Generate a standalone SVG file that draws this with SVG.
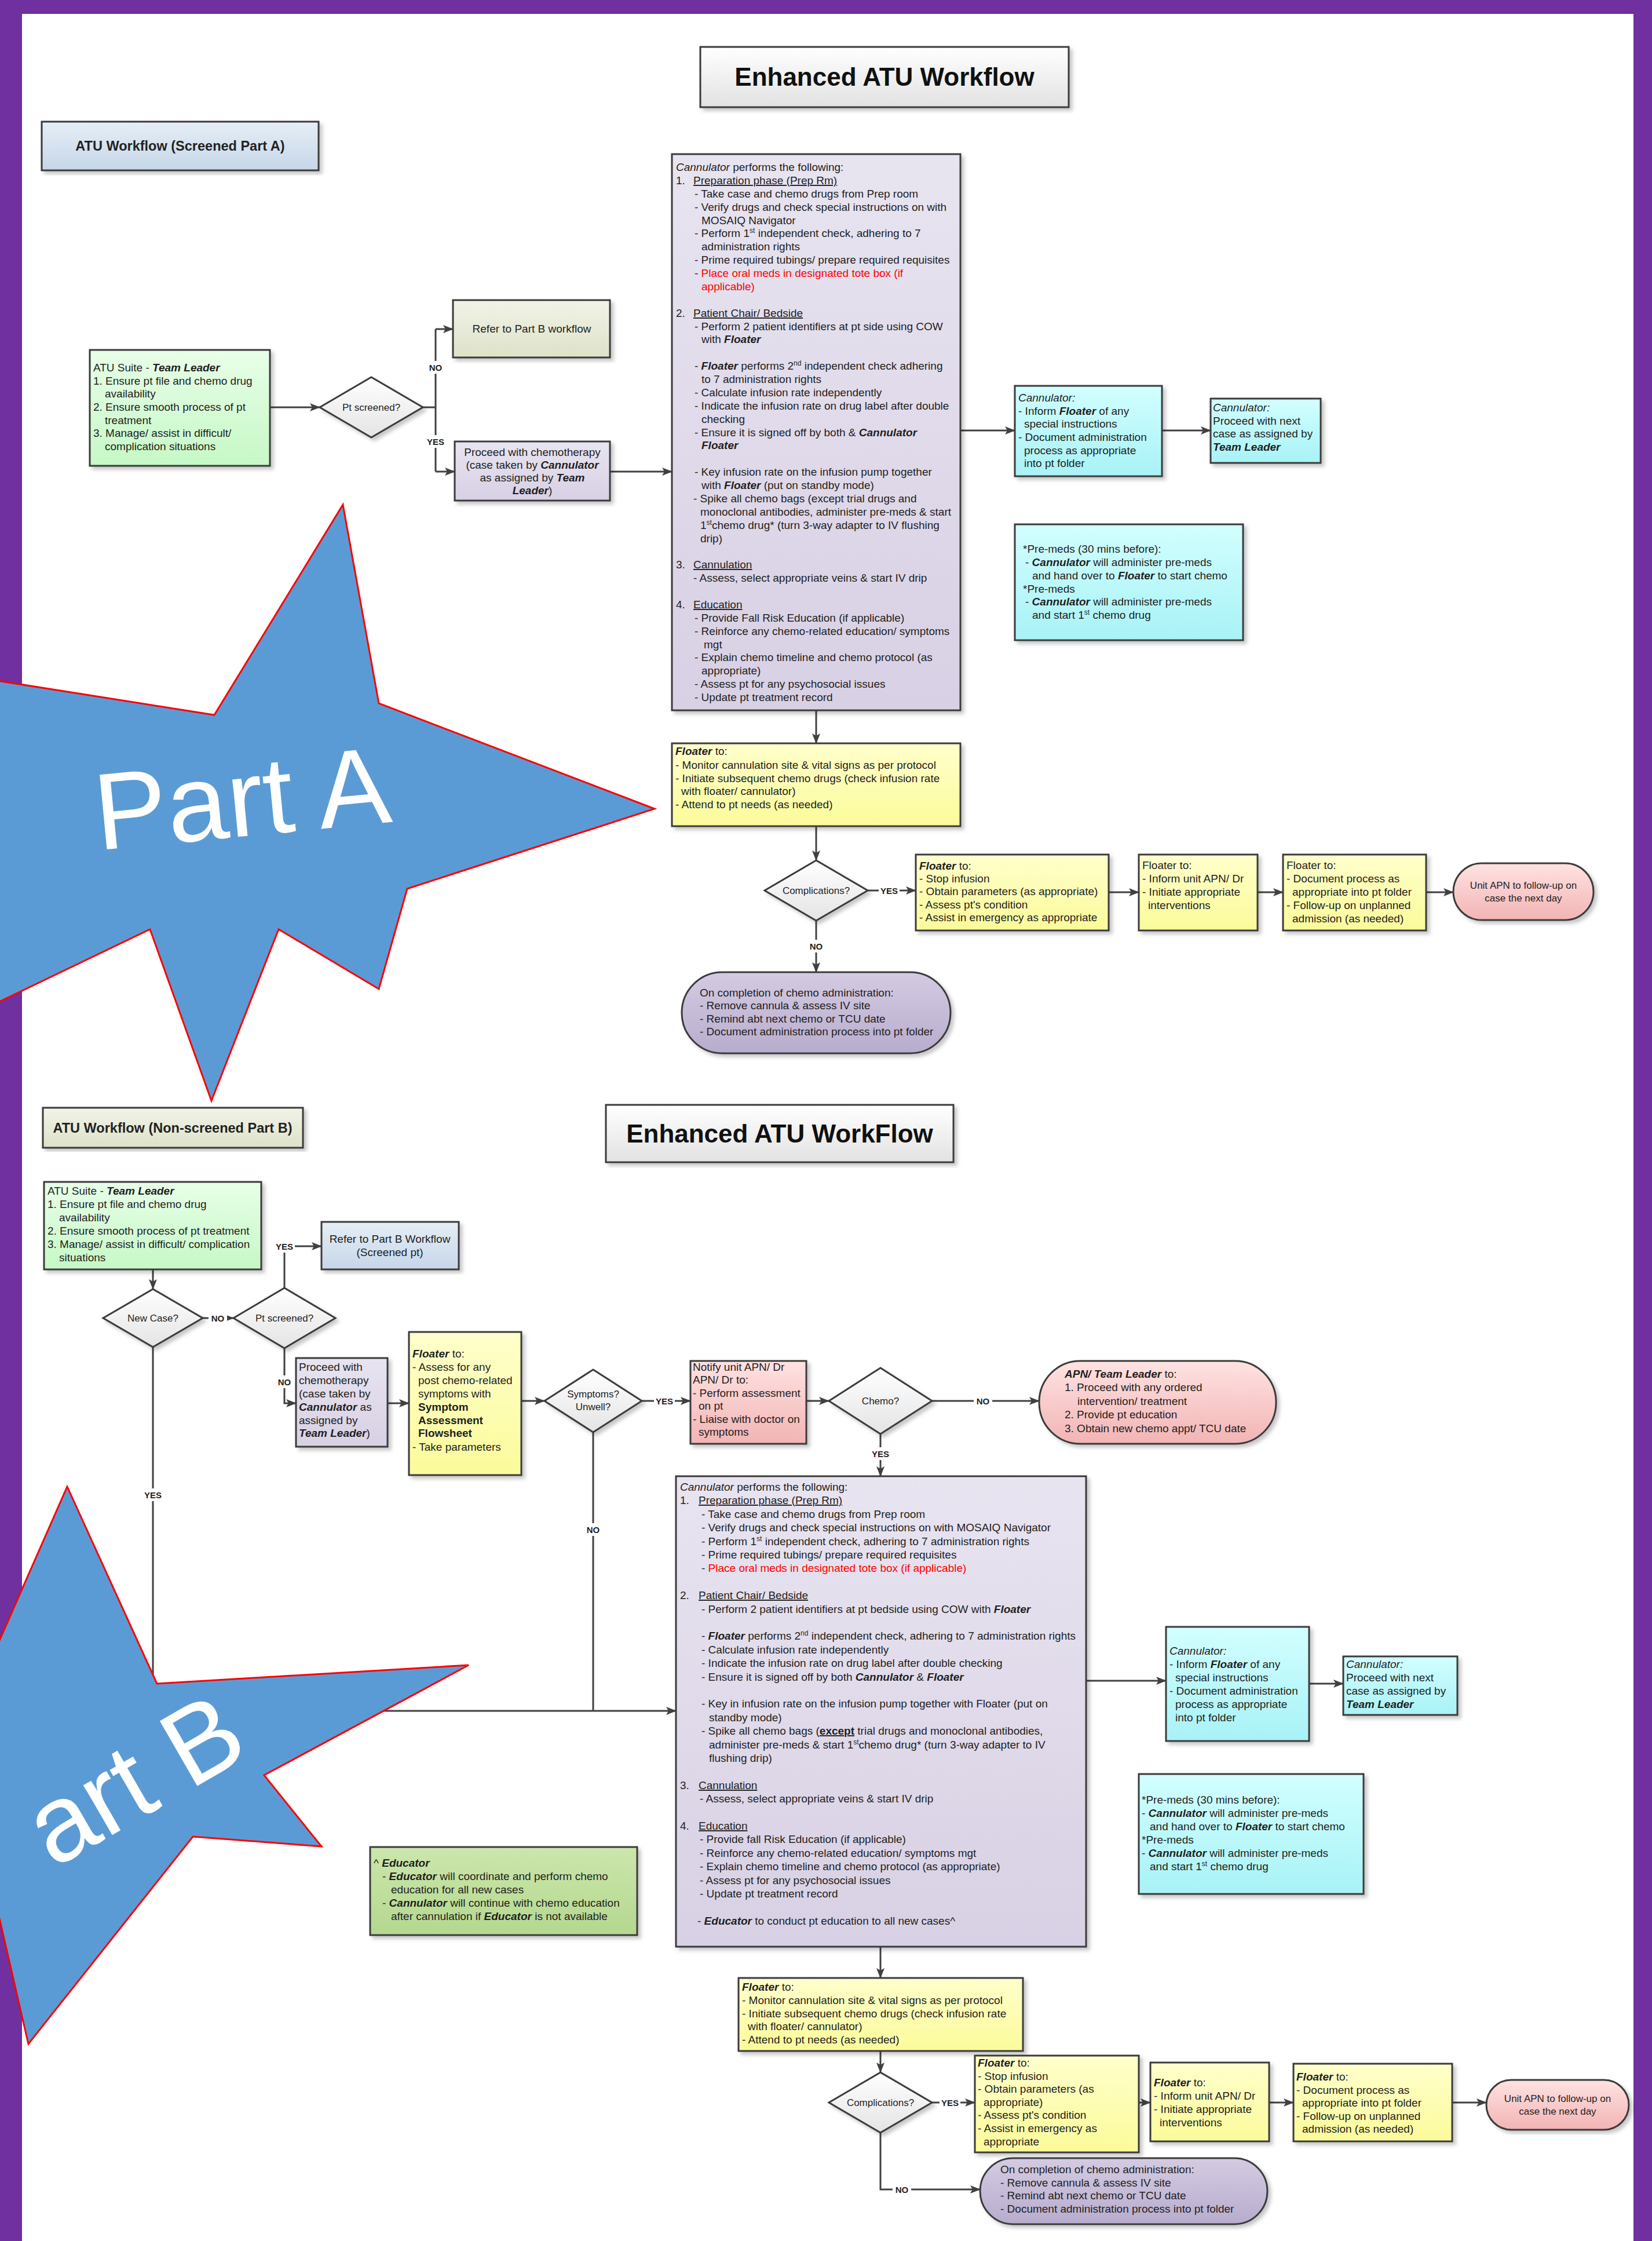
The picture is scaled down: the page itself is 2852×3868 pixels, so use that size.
<svg xmlns="http://www.w3.org/2000/svg" width="2852" height="3868" viewBox="0 0 2852 3868">
<defs>
<linearGradient id="gGreen" x1="0" y1="0" x2="0" y2="1"><stop offset="0" stop-color="#e8ffe8"/><stop offset="1" stop-color="#c6f8c6"/></linearGradient>
<linearGradient id="gLav" x1="0" y1="0" x2="0" y2="1"><stop offset="0" stop-color="#e8e4f0"/><stop offset="1" stop-color="#d8d0e4"/></linearGradient>
<linearGradient id="gCyan" x1="0" y1="0" x2="0" y2="1"><stop offset="0" stop-color="#d2ffff"/><stop offset="1" stop-color="#a8f2f6"/></linearGradient>
<linearGradient id="gYel" x1="0" y1="0" x2="0" y2="1"><stop offset="0" stop-color="#ffffcc"/><stop offset="1" stop-color="#fbfb9a"/></linearGradient>
<linearGradient id="gPink" x1="0" y1="0" x2="0" y2="1"><stop offset="0" stop-color="#ffe2e2"/><stop offset="1" stop-color="#f2b4b4"/></linearGradient>
<linearGradient id="gRnd" x1="0" y1="0" x2="0" y2="1"><stop offset="0" stop-color="#d4cbe2"/><stop offset="1" stop-color="#b8accd"/></linearGradient>
<linearGradient id="gBeige" x1="0" y1="0" x2="0" y2="1"><stop offset="0" stop-color="#f2f3e8"/><stop offset="1" stop-color="#dde2c8"/></linearGradient>
<linearGradient id="gBlue" x1="0" y1="0" x2="0" y2="1"><stop offset="0" stop-color="#e6eef6"/><stop offset="1" stop-color="#c6d6e9"/></linearGradient>
<linearGradient id="gDia" x1="0" y1="0" x2="0" y2="1"><stop offset="0" stop-color="#ffffff"/><stop offset="1" stop-color="#e4e4e4"/></linearGradient>
<linearGradient id="gEdu" x1="0" y1="0" x2="0" y2="1"><stop offset="0" stop-color="#cce6ac"/><stop offset="1" stop-color="#b4d88e"/></linearGradient>
<linearGradient id="gTitle" x1="0" y1="0" x2="0" y2="1"><stop offset="0" stop-color="#ffffff"/><stop offset="1" stop-color="#e2e2e2"/></linearGradient>
<marker id="ah" markerWidth="18" markerHeight="14" refX="17" refY="7" orient="auto" markerUnits="userSpaceOnUse"><path d="M0,0 L18,7 L0,14 L4,7 z" fill="#404040"/></marker>
<filter id="sh" x="-5%" y="-5%" width="115%" height="115%"><feDropShadow dx="5" dy="5" stdDeviation="3" flood-color="#000" flood-opacity="0.22"/></filter>
</defs>
<style>
.bx{stroke:#3a3a3a;stroke-width:3;filter:url(#sh)}
.t{font-family:"Liberation Sans",Arial,sans-serif;font-size:19px;fill:#1e1e1e}
.c{text-anchor:middle}
.bi{font-weight:bold;font-style:italic}
.it{font-style:italic}
.bd{font-weight:bold}
.ul{text-decoration:underline}
.rd{fill:#ff0000}
.dt{font-size:17px}
.lb{font-family:"Liberation Sans",Arial,sans-serif;font-size:15px;font-weight:bold;text-anchor:middle;fill:#1e1e1e}
.sup{font-size:12px}
.ttl{font-family:"Liberation Sans",Arial,sans-serif;font-size:44px;font-weight:bold;text-anchor:middle;fill:#111}
.sec{font-family:"Liberation Sans",Arial,sans-serif;font-size:23.5px;font-weight:bold;text-anchor:middle;fill:#222}
.cn{stroke:#404040;stroke-width:3;fill:none}
.ca{stroke:#404040;stroke-width:3;fill:none;marker-end:url(#ah)}
.star{fill:#5b9bd5;stroke:#ff0000;stroke-width:3}
.big{font-family:"Liberation Sans",Arial,sans-serif;font-size:188px;fill:#ffffff}
</style>
<rect x="0" y="0" width="2852" height="3868" fill="#ffffff"/>
<g id="frame" fill="#7030a0">
<rect x="0" y="0" width="38" height="3868"/>
<rect x="0" y="0" width="2852" height="24"/>
<rect x="2820" y="0" width="32" height="3868"/>
</g>

<g id="connectors">
<path class="ca" d="M466,703 H552"/>
<path class="cn" d="M730,703 H752 M752,568 V814"/>
<path class="ca" d="M752,568 H782"/>
<path class="ca" d="M752,814 H785"/>
<path class="ca" d="M1053,814 H1160"/>
<path class="ca" d="M1658,743 H1752"/>
<path class="ca" d="M2006,743 H2090"/>
<path class="ca" d="M1409,1226 V1283"/>
<path class="ca" d="M1409,1426 V1485"/>
<path class="ca" d="M1498,1537 H1581"/>
<path class="ca" d="M1914,1540 H1966"/>
<path class="ca" d="M2171,1540 H2215"/>
<path class="ca" d="M2462,1540 H2509"/>
<path class="ca" d="M1409,1589 V1678"/>
<path class="ca" d="M264,2191 V2225"/>
<path class="ca" d="M350,2275 H403"/>
<path class="ca" d="M491,2223 V2151 H555"/>
<path class="ca" d="M491,2327 V2422 H511"/>
<path class="ca" d="M669,2422 H706"/>
<path class="ca" d="M900,2418 H940"/>
<path class="ca" d="M1108,2418 H1192"/>
<path class="ca" d="M1392,2418 H1431"/>
<path class="ca" d="M1609,2418 H1794"/>
<path class="ca" d="M1520,2475 V2548"/>
<path class="ca" d="M264,2325 V2953 H1167"/>
<path class="cn" d="M1024,2472 V2953"/>
<path class="ca" d="M1875,2901 H2013"/>
<path class="ca" d="M2260,2906 H2319"/>
<path class="ca" d="M1520,3360 V3414"/>
<path class="ca" d="M1520,3540 V3577"/>
<path class="ca" d="M1609,3629 H1683"/>
<path class="ca" d="M1966,3629 H1986"/>
<path class="ca" d="M2191,3629 H2233"/>
<path class="ca" d="M2507,3629 H2566"/>
<path class="ca" d="M1520,3681 V3779 H1692"/>
<g fill="#ffffff">
<rect x="736" y="623" width="32" height="22"/>
<rect x="734" y="751" width="36" height="22"/>
<rect x="1517" y="1526" width="36" height="22"/>
<rect x="1393" y="1622" width="32" height="22"/>
<rect x="360" y="2264" width="32" height="22"/>
<rect x="473" y="2140" width="36" height="22"/>
<rect x="475" y="2374" width="32" height="22"/>
<rect x="1129" y="2407" width="36" height="22"/>
<rect x="1681" y="2407" width="32" height="22"/>
<rect x="1502" y="2498" width="36" height="22"/>
<rect x="246" y="2569" width="36" height="22"/>
<rect x="1008" y="2629" width="32" height="22"/>
<rect x="1622" y="3618" width="36" height="22"/>
<rect x="1541" y="3768" width="32" height="22"/>
</g>
<text class="lb" x="752" y="640">NO</text>
<text class="lb" x="752" y="768">YES</text>
<text class="lb" x="1535" y="1543">YES</text>
<text class="lb" x="1409" y="1639">NO</text>
<text class="lb" x="376" y="2281">NO</text>
<text class="lb" x="491" y="2157">YES</text>
<text class="lb" x="491" y="2391">NO</text>
<text class="lb" x="1147" y="2424">YES</text>
<text class="lb" x="1697" y="2424">NO</text>
<text class="lb" x="1520" y="2515">YES</text>
<text class="lb" x="264" y="2586">YES</text>
<text class="lb" x="1024" y="2646">NO</text>
<text class="lb" x="1640" y="3635">YES</text>
<text class="lb" x="1557" y="3785">NO</text>
</g>

<!-- PART A -->
<g id="titleA">
<rect class="bx" x="1209" y="81" width="636" height="104" fill="url(#gTitle)"/>
<text class="ttl" x="1527" y="148">Enhanced ATU Workflow</text>
</g>
<g id="labelA">
<rect class="bx" x="72" y="210" width="478" height="84" fill="url(#gBlue)"/>
<text class="sec" x="311" y="260">ATU Workflow (Screened Part A)</text>
</g>
<g id="suiteA">
<rect class="bx" x="155" y="604" width="311" height="200" fill="url(#gGreen)"/>
<text class="t" x="161" y="641">ATU Suite - <tspan class="bi">Team Leader</tspan></text>
<text class="t" x="161" y="664">1. Ensure pt file and chemo drug</text>
<text class="t" x="181" y="686">availability</text>
<text class="t" x="161" y="709">2. Ensure smooth process of pt</text>
<text class="t" x="181" y="732">treatment</text>
<text class="t" x="161" y="754">3. Manage/ assist in difficult/</text>
<text class="t" x="181" y="777">complication situations</text>
</g>
<g id="screenA">
<polygon class="bx" points="552,703 641,651 730,703 641,755" fill="url(#gDia)"/>
<text class="t dt c" x="641" y="709">Pt screened?</text>
</g>
<g id="referA">
<rect class="bx" x="782" y="518" width="271" height="99" fill="url(#gBeige)"/>
<text class="t c" x="918" y="574">Refer to Part B workflow</text>
</g>
<g id="proceedA">
<rect class="bx" x="785" y="762" width="268" height="102" fill="url(#gLav)"/>
<text class="t c" x="919" y="787">Proceed with chemotherapy</text>
<text class="t c" x="919" y="809">(case taken by <tspan class="bi">Cannulator</tspan></text>
<text class="t c" x="919" y="831">as assigned by <tspan class="bi">Team</tspan></text>
<text class="t c" x="919" y="853"><tspan class="bi">Leader</tspan>)</text>
</g>
<g id="mainA">
<rect class="bx" x="1160" y="266" width="498" height="960" fill="url(#gLav)"/>
<text class="t" x="1167" y="295"><tspan class="it">Cannulator</tspan> performs the following:</text>
<text class="t" x="1167" y="318">1.</text><text class="t ul" x="1197" y="318">Preparation phase (Prep Rm)</text>
<text class="t" x="1199" y="341">- Take case and chemo drugs from Prep room</text>
<text class="t" x="1199" y="364">- Verify drugs and check special instructions on with</text>
<text class="t" x="1211" y="387">MOSAIQ Navigator</text>
<text class="t" x="1199" y="409">- Perform 1<tspan class="sup" dy="-7">st</tspan><tspan dy="7"> independent check, adhering to 7</tspan></text>
<text class="t" x="1211" y="432">administration rights</text>
<text class="t" x="1199" y="455">- Prime required tubings/ prepare required requisites</text>
<text class="t" x="1199" y="478">- <tspan class="rd">Place oral meds in designated tote box (if</tspan></text>
<text class="t rd" x="1211" y="501">applicable)</text>
<text class="t" x="1167" y="547">2.</text><text class="t ul" x="1197" y="547">Patient Chair/ Bedside</text>
<text class="t" x="1199" y="570">- Perform 2 patient identifiers at pt side using COW</text>
<text class="t" x="1211" y="592">with <tspan class="bi">Floater</tspan></text>
<text class="t" x="1199" y="638">- <tspan class="bi">Floater</tspan> performs 2<tspan class="sup" dy="-7">nd</tspan><tspan dy="7"> independent check adhering</tspan></text>
<text class="t" x="1211" y="661">to 7 administration rights</text>
<text class="t" x="1199" y="684">- Calculate infusion rate independently</text>
<text class="t" x="1199" y="707">- Indicate the infusion rate on drug label after double</text>
<text class="t" x="1211" y="730">checking</text>
<text class="t" x="1199" y="753">- Ensure it is signed off  by both &amp; <tspan class="bi">Cannulator</tspan></text>
<text class="t bi" x="1211" y="775">Floater</text>
<text class="t" x="1199" y="821">- Key infusion rate on the infusion pump together</text>
<text class="t" x="1211" y="844">with <tspan class="bi">Floater</tspan> (put on standby mode)</text>
<text class="t" x="1197" y="867">- Spike all chemo bags (except trial drugs and</text>
<text class="t" x="1209" y="890">monoclonal antibodies, administer pre-meds &amp; start</text>
<text class="t" x="1209" y="913">1<tspan class="sup" dy="-7">st</tspan><tspan dy="7">chemo drug* (turn 3-way adapter to IV flushing</tspan></text>
<text class="t" x="1209" y="936">drip)</text>
<text class="t" x="1167" y="981">3.</text><text class="t ul" x="1197" y="981">Cannulation</text>
<text class="t" x="1197" y="1004">- Assess, select appropriate veins &amp; start IV drip</text>
<text class="t" x="1167" y="1050">4.</text><text class="t ul" x="1197" y="1050">Education</text>
<text class="t" x="1199" y="1073">- Provide Fall Risk Education (if applicable)</text>
<text class="t" x="1199" y="1096">- Reinforce any chemo-related education/ symptoms</text>
<text class="t" x="1215" y="1119">mgt</text>
<text class="t" x="1199" y="1141">- Explain chemo timeline and chemo protocol (as</text>
<text class="t" x="1211" y="1164">appropriate)</text>
<text class="t" x="1199" y="1187">- Assess pt for any psychosocial issues</text>
<text class="t" x="1199" y="1210">-  Update pt treatment record</text>
</g>
<g id="cannA">
<rect class="bx" x="1752" y="666" width="254" height="156" fill="url(#gCyan)"/>
<text class="t it" x="1758" y="693">Cannulator:</text>
<text class="t" x="1758" y="716">- Inform <tspan class="bi">Floater</tspan> of any</text>
<text class="t" x="1768" y="738">special instructions</text>
<text class="t" x="1758" y="761">- Document administration</text>
<text class="t" x="1768" y="784">process as appropriate</text>
<text class="t" x="1768" y="806">into pt folder</text>
</g>
<g id="nextA">
<rect class="bx" x="2090" y="688" width="190" height="111" fill="url(#gCyan)"/>
<text class="t it" x="2094" y="710">Cannulator:</text>
<text class="t" x="2094" y="733">Proceed with next</text>
<text class="t" x="2094" y="755">case as assigned by</text>
<text class="t bi" x="2094" y="778">Team Leader</text>
</g>
<g id="premedsA">
<rect class="bx" x="1752" y="905" width="394" height="200" fill="url(#gCyan)"/>
<text class="t" x="1766" y="954">*Pre-meds (30 mins before):</text>
<text class="t" x="1770" y="977">- <tspan class="bi">Cannulator</tspan> will administer pre-meds</text>
<text class="t" x="1782" y="1000">and hand over to <tspan class="bi">Floater</tspan> to start chemo</text>
<text class="t" x="1766" y="1023">*Pre-meds</text>
<text class="t" x="1770" y="1045">- <tspan class="bi">Cannulator</tspan> will administer pre-meds</text>
<text class="t" x="1782" y="1068">and start 1<tspan class="sup" dy="-7">st</tspan><tspan dy="7"> chemo drug</tspan></text>
</g>
<g id="floaterA">
<rect class="bx" x="1160" y="1283" width="498" height="143" fill="url(#gYel)"/>
<text class="t" x="1166" y="1303"><tspan class="bi">Floater</tspan> to:</text>
<text class="t" x="1166" y="1327">- Monitor cannulation site &amp; vital signs as per protocol</text>
<text class="t" x="1166" y="1350">- Initiate subsequent chemo drugs (check infusion rate</text>
<text class="t" x="1176" y="1372">with floater/ cannulator)</text>
<text class="t" x="1166" y="1395">- Attend to pt needs (as needed)</text>
</g>
<g id="compA">
<polygon class="bx" points="1320,1537 1409,1485 1498,1537 1409,1589" fill="url(#gDia)"/>
<text class="t dt c" x="1409" y="1543">Complications?</text>
</g>
<g id="stopA">
<rect class="bx" x="1581" y="1475" width="333" height="131" fill="url(#gYel)"/>
<text class="t" x="1587" y="1501"><tspan class="bi">Floater</tspan> to:</text>
<text class="t" x="1587" y="1523">- Stop infusion</text>
<text class="t" x="1587" y="1545">- Obtain parameters (as appropriate)</text>
<text class="t" x="1587" y="1568">- Assess pt's condition</text>
<text class="t" x="1587" y="1590">- Assist in emergency as appropriate</text>
</g>
<g id="informA">
<rect class="bx" x="1966" y="1475" width="205" height="131" fill="url(#gYel)"/>
<text class="t" x="1972" y="1500">Floater to:</text>
<text class="t" x="1972" y="1523">- Inform unit APN/ Dr</text>
<text class="t" x="1972" y="1546">- Initiate appropriate</text>
<text class="t" x="1982" y="1569">interventions</text>
</g>
<g id="docA">
<rect class="bx" x="2215" y="1475" width="247" height="131" fill="url(#gYel)"/>
<text class="t" x="2221" y="1500">Floater to:</text>
<text class="t" x="2221" y="1523">- Document process as</text>
<text class="t" x="2231" y="1546">appropriate into pt folder</text>
<text class="t" x="2221" y="1569">- Follow-up on unplanned</text>
<text class="t" x="2231" y="1592">admission (as needed)</text>
</g>
<g id="apnA">
<rect class="bx" x="2509" y="1490" width="242" height="98" rx="49" fill="url(#gPink)"/>
<text class="t dt c" x="2630" y="1534">Unit APN to follow-up on</text>
<text class="t dt c" x="2630" y="1556">case the next day</text>
</g>
<g id="doneA">
<rect class="bx" x="1177" y="1678" width="464" height="140" rx="70" fill="url(#gRnd)"/>
<text class="t" x="1208" y="1720">On completion of chemo administration:</text>
<text class="t" x="1208" y="1742">- Remove cannula &amp; assess IV site</text>
<text class="t" x="1208" y="1765">- Remind abt next chemo or TCU date</text>
<text class="t" x="1208" y="1787">- Document administration process into pt folder</text>
</g>

<!-- PART B -->
<g id="labelB">
<rect class="bx" x="74" y="1912" width="449" height="69" fill="url(#gBeige)"/>
<text class="sec" x="298" y="1955">ATU Workflow (Non-screened Part B)</text>
</g>
<g id="titleB">
<rect class="bx" x="1046" y="1907" width="600" height="99" fill="url(#gTitle)"/>
<text class="ttl" x="1346" y="1972">Enhanced ATU WorkFlow</text>
</g>
<g id="suiteB">
<rect class="bx" x="76" y="2040" width="375" height="151" fill="url(#gGreen)"/>
<text class="t" x="82" y="2062">ATU Suite - <tspan class="bi">Team Leader</tspan></text>
<text class="t" x="82" y="2085">1. Ensure pt file and chemo drug</text>
<text class="t" x="102" y="2108">availability</text>
<text class="t" x="82" y="2131">2. Ensure smooth process of pt treatment</text>
<text class="t" x="82" y="2154">3. Manage/ assist in difficult/ complication</text>
<text class="t" x="102" y="2177">situations</text>
</g>
<g id="newcaseB">
<polygon class="bx" points="178,2275 264,2225 350,2275 264,2325" fill="url(#gDia)"/>
<text class="t dt c" x="264" y="2281">New Case?</text>
</g>
<g id="screenB">
<polygon class="bx" points="403,2275 491,2223 579,2275 491,2327" fill="url(#gDia)"/>
<text class="t dt c" x="491" y="2281">Pt screened?</text>
</g>
<g id="referB">
<rect class="bx" x="555" y="2109" width="237" height="82" fill="url(#gBlue)"/>
<text class="t c" x="673" y="2145">Refer to Part B Workflow</text>
<text class="t c" x="673" y="2168">(Screened pt)</text>
</g>
<g id="proceedB">
<rect class="bx" x="511" y="2344" width="158" height="153" fill="url(#gLav)"/>
<text class="t" x="516" y="2366">Proceed with</text>
<text class="t" x="516" y="2389">chemotherapy</text>
<text class="t" x="516" y="2412">(case taken by</text>
<text class="t" x="516" y="2435"><tspan class="bi">Cannulator</tspan> as</text>
<text class="t" x="516" y="2458">assigned by</text>
<text class="t" x="516" y="2480"><tspan class="bi">Team Leader</tspan>)</text>
</g>
<g id="floaterB1">
<rect class="bx" x="706" y="2299" width="194" height="247" fill="url(#gYel)"/>
<text class="t" x="712" y="2343"><tspan class="bi">Floater</tspan> to:</text>
<text class="t" x="712" y="2366">- Assess for any</text>
<text class="t" x="722" y="2389">post chemo-related</text>
<text class="t" x="722" y="2412">symptoms with</text>
<text class="t bd" x="722" y="2435">Symptom</text>
<text class="t bd" x="722" y="2458">Assessment</text>
<text class="t bd" x="722" y="2480">Flowsheet</text>
<text class="t" x="712" y="2504">- Take parameters</text>
</g>
<g id="symptB">
<polygon class="bx" points="940,2418 1024,2364 1108,2418 1024,2472" fill="url(#gDia)"/>
<text class="t dt c" x="1024" y="2412">Symptoms?</text>
<text class="t dt c" x="1024" y="2434">Unwell?</text>
</g>
<g id="notifyB">
<rect class="bx" x="1192" y="2349" width="200" height="143" fill="url(#gPink)"/>
<text class="t" x="1196" y="2366">Notify unit APN/ Dr</text>
<text class="t" x="1196" y="2388">APN/ Dr to:</text>
<text class="t" x="1196" y="2411">- Perform assessment</text>
<text class="t" x="1206" y="2433">on pt</text>
<text class="t" x="1196" y="2456">- Liaise with doctor on</text>
<text class="t" x="1206" y="2478">symptoms</text>
</g>
<g id="chemoB">
<polygon class="bx" points="1431,2418 1520,2361 1609,2418 1520,2475" fill="url(#gDia)"/>
<text class="t dt c" x="1520" y="2424">Chemo?</text>
</g>
<g id="apnB">
<rect class="bx" x="1794" y="2349" width="409" height="143" rx="71" fill="url(#gPink)"/>
<text class="t" x="1838" y="2378"><tspan class="bi">APN/ Team Leader</tspan> to:</text>
<text class="t" x="1838" y="2401">1. Proceed with any ordered</text>
<text class="t" x="1860" y="2425">intervention/ treatment</text>
<text class="t" x="1838" y="2448">2. Provide pt education</text>
<text class="t" x="1838" y="2472">3. Obtain new chemo appt/ TCU date</text>
</g>
<g id="mainB">
<rect class="bx" x="1167" y="2548" width="708" height="812" fill="url(#gLav)"/>
<text class="t" x="1174" y="2573"><tspan class="it">Cannulator</tspan> performs the following:</text>
<text class="t" x="1174" y="2596">1.</text><text class="t ul" x="1206" y="2596">Preparation phase (Prep Rm)</text>
<text class="t" x="1211" y="2620">- Take case and chemo drugs from Prep room</text>
<text class="t" x="1211" y="2643">- Verify drugs and check special instructions on with MOSAIQ Navigator</text>
<text class="t" x="1211" y="2667">- Perform 1<tspan class="sup" dy="-7">st</tspan><tspan dy="7"> independent check, adhering to 7 administration rights</tspan></text>
<text class="t" x="1211" y="2690">- Prime required tubings/ prepare required requisites</text>
<text class="t" x="1211" y="2713">- <tspan class="rd">Place oral meds in designated tote box (if applicable)</tspan></text>
<text class="t" x="1174" y="2760">2.</text><text class="t ul" x="1206" y="2760">Patient Chair/ Bedside</text>
<text class="t" x="1211" y="2784">- Perform 2 patient identifiers at pt bedside using COW with <tspan class="bi">Floater</tspan></text>
<text class="t" x="1211" y="2830">- <tspan class="bi">Floater</tspan> performs 2<tspan class="sup" dy="-7">nd</tspan><tspan dy="7"> independent check, adhering to 7 administration rights</tspan></text>
<text class="t" x="1211" y="2854">- Calculate infusion rate independently</text>
<text class="t" x="1211" y="2877">- Indicate the infusion rate on drug label after double checking</text>
<text class="t" x="1211" y="2901">- Ensure it is signed off  by both <tspan class="bi">Cannulator</tspan> &amp; <tspan class="bi">Floater</tspan></text>
<text class="t" x="1211" y="2947">- Key in infusion rate on the infusion pump together with Floater (put on</text>
<text class="t" x="1224" y="2971">standby mode)</text>
<text class="t" x="1211" y="2994">- Spike all chemo bags (<tspan class="bd ul">except</tspan> trial drugs and monoclonal antibodies,</text>
<text class="t" x="1224" y="3018">administer pre-meds &amp; start 1<tspan class="sup" dy="-7">st</tspan><tspan dy="7">chemo drug* (turn 3-way adapter to IV</tspan></text>
<text class="t" x="1224" y="3041">flushing drip)</text>
<text class="t" x="1174" y="3088">3.</text><text class="t ul" x="1206" y="3088">Cannulation</text>
<text class="t" x="1208" y="3111">- Assess, select appropriate veins &amp; start IV drip</text>
<text class="t" x="1174" y="3158">4.</text><text class="t ul" x="1206" y="3158">Education</text>
<text class="t" x="1208" y="3181">- Provide fall Risk Education (if applicable)</text>
<text class="t" x="1208" y="3205">- Reinforce any chemo-related education/ symptoms mgt</text>
<text class="t" x="1208" y="3228">- Explain chemo timeline and chemo protocol (as appropriate)</text>
<text class="t" x="1208" y="3252">- Assess pt for any psychosocial issues</text>
<text class="t" x="1208" y="3275">- Update pt treatment record</text>
<text class="t" x="1204" y="3322">- <tspan class="bi">Educator</tspan> to conduct pt education to all new cases^</text>
</g>
<g id="cannB">
<rect class="bx" x="2013" y="2808" width="247" height="197" fill="url(#gCyan)"/>
<text class="t it" x="2019" y="2856">Cannulator:</text>
<text class="t" x="2019" y="2879">- Inform <tspan class="bi">Floater</tspan> of any</text>
<text class="t" x="2029" y="2902">special instructions</text>
<text class="t" x="2019" y="2925">- Document administration</text>
<text class="t" x="2029" y="2948">process as appropriate</text>
<text class="t" x="2029" y="2971">into pt folder</text>
</g>
<g id="nextB">
<rect class="bx" x="2319" y="2859" width="197" height="101" fill="url(#gCyan)"/>
<text class="t it" x="2324" y="2879">Cannulator:</text>
<text class="t" x="2324" y="2902">Proceed with next</text>
<text class="t" x="2324" y="2925">case as assigned by</text>
<text class="t bi" x="2324" y="2948">Team Leader</text>
</g>
<g id="premedsB">
<rect class="bx" x="1966" y="3062" width="388" height="207" fill="url(#gCyan)"/>
<text class="t" x="1971" y="3113">*Pre-meds (30 mins before):</text>
<text class="t" x="1971" y="3136">- <tspan class="bi">Cannulator</tspan> will administer pre-meds</text>
<text class="t" x="1985" y="3159">and hand over to <tspan class="bi">Floater</tspan> to start chemo</text>
<text class="t" x="1971" y="3182">*Pre-meds</text>
<text class="t" x="1971" y="3205">- <tspan class="bi">Cannulator</tspan> will administer pre-meds</text>
<text class="t" x="1985" y="3228">and start 1<tspan class="sup" dy="-7">st</tspan><tspan dy="7"> chemo drug</tspan></text>
</g>
<g id="educatorB">
<rect class="bx" x="639" y="3188" width="461" height="152" fill="url(#gEdu)"/>
<text class="t" x="645" y="3222">^ <tspan class="bi">Educator</tspan></text>
<text class="t" x="660" y="3245">- <tspan class="bi">Educator</tspan> will coordinate and perform chemo</text>
<text class="t" x="675" y="3268">education for all new cases</text>
<text class="t" x="660" y="3291">- <tspan class="bi">Cannulator</tspan> will continue with chemo education</text>
<text class="t" x="675" y="3314">after cannulation if <tspan class="bi">Educator</tspan> is not available</text>
</g>
<g id="floaterB2">
<rect class="bx" x="1275" y="3414" width="491" height="126" fill="url(#gYel)"/>
<text class="t" x="1281" y="3436"><tspan class="bi">Floater</tspan> to:</text>
<text class="t" x="1281" y="3459">- Monitor cannulation site &amp; vital signs as per protocol</text>
<text class="t" x="1281" y="3482">- Initiate subsequent chemo drugs (check infusion rate</text>
<text class="t" x="1291" y="3504">with floater/ cannulator)</text>
<text class="t" x="1281" y="3527">- Attend to pt needs (as needed)</text>
</g>
<g id="compB">
<polygon class="bx" points="1431,3629 1520,3577 1609,3629 1520,3681" fill="url(#gDia)"/>
<text class="t dt c" x="1520" y="3635">Complications?</text>
</g>
<g id="stopB">
<rect class="bx" x="1683" y="3548" width="283" height="167" fill="url(#gYel)"/>
<text class="t" x="1688" y="3567"><tspan class="bi">Floater</tspan> to:</text>
<text class="t" x="1688" y="3590">- Stop infusion</text>
<text class="t" x="1688" y="3612">- Obtain parameters (as</text>
<text class="t" x="1698" y="3635">appropriate)</text>
<text class="t" x="1688" y="3657">- Assess pt's condition</text>
<text class="t" x="1688" y="3680">- Assist in emergency as</text>
<text class="t" x="1698" y="3703">appropriate</text>
</g>
<g id="informB">
<rect class="bx" x="1986" y="3560" width="205" height="136" fill="url(#gYel)"/>
<text class="t" x="1992" y="3601"><tspan class="bi">Floater</tspan> to:</text>
<text class="t" x="1992" y="3624">- Inform unit APN/ Dr</text>
<text class="t" x="1992" y="3647">- Initiate appropriate</text>
<text class="t" x="2002" y="3670">interventions</text>
</g>
<g id="docB">
<rect class="bx" x="2233" y="3562" width="274" height="134" fill="url(#gYel)"/>
<text class="t" x="2238" y="3591"><tspan class="bi">Floater</tspan> to:</text>
<text class="t" x="2238" y="3614">- Document process as</text>
<text class="t" x="2248" y="3636">appropriate into pt folder</text>
<text class="t" x="2238" y="3659">- Follow-up on unplanned</text>
<text class="t" x="2248" y="3681">admission (as needed)</text>
</g>
<g id="apnB2">
<rect class="bx" x="2566" y="3590" width="246" height="86" rx="43" fill="url(#gPink)"/>
<text class="t dt c" x="2689" y="3628">Unit APN to follow-up on</text>
<text class="t dt c" x="2689" y="3650">case the next day</text>
</g>
<g id="doneB">
<rect class="bx" x="1692" y="3725" width="496" height="114" rx="57" fill="url(#gRnd)"/>
<text class="t" x="1727" y="3751">On completion of chemo administration:</text>
<text class="t" x="1727" y="3774">- Remove cannula &amp; assess IV site</text>
<text class="t" x="1727" y="3796">- Remind abt next chemo or TCU date</text>
<text class="t" x="1727" y="3819">- Document administration process into pt folder</text>
</g>

<g id="starA">
<polygon class="star" points="592,871 654,1214 1130,1396 703,1534 654,1707 481,1604 365,1900 259,1604 -99,1776 -49,1480 -99,1160 370,1234"/>
<text class="big" x="424" y="1443" text-anchor="middle" transform="rotate(-5.5 424 1443)">Part A</text>
</g>
<g id="starB">
<polygon class="star" points="116,2566 271,2906 809,2874 456,3064 555,3187 333,3170 49,3528 -25,3207 -148,3084 -25,2886"/>
<text class="big" x="92" y="3226" transform="rotate(-30 92 3226)">art B</text>
</g>
</svg>
